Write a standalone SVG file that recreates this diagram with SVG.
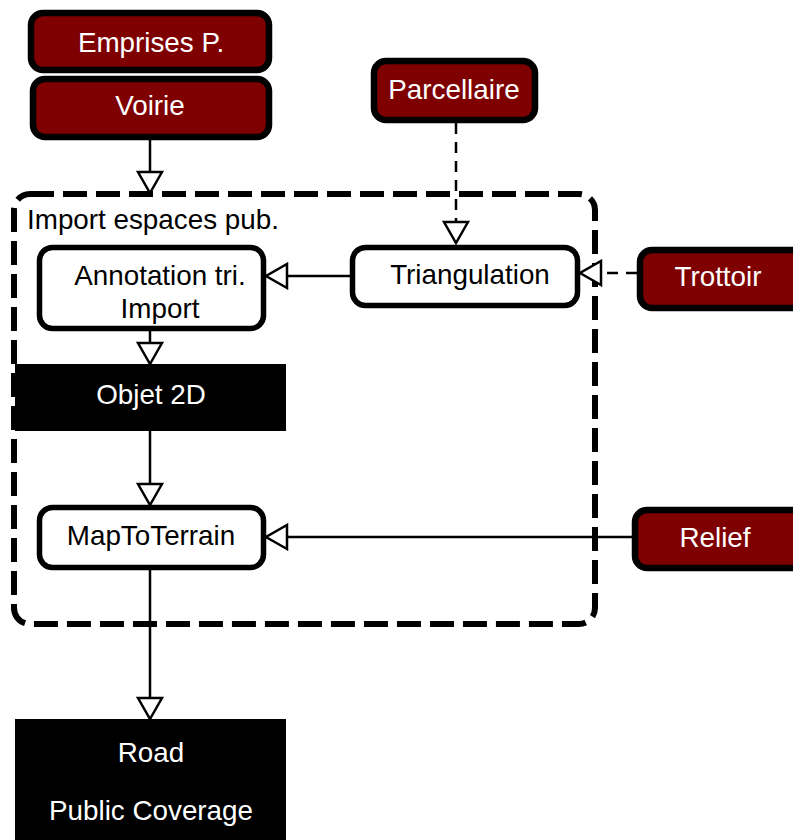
<svg xmlns="http://www.w3.org/2000/svg" width="793" height="840" viewBox="0 0 793 840">
<defs>
<style>
text{font-family:"Liberation Sans",Arial,sans-serif;font-size:27.8px;text-anchor:middle}
.w{fill:#fff}
.b{fill:#000}
.red{fill:#7f0000;stroke:#000;stroke-width:6.5}
.proc{fill:#fff;stroke:#000;stroke-width:5.5}
.blk{fill:#000}
.c{fill:none;stroke:#000;stroke-width:2.5}
.d{stroke-dasharray:11 8}
</style>
<marker id="ah" viewBox="0 0 26 28" refX="23" refY="14" markerWidth="26" markerHeight="28" markerUnits="userSpaceOnUse" orient="auto">
<path d="M2,2 L23,14 L2,26 Z" fill="#fff" stroke="#000" stroke-width="2.5" stroke-dasharray="none"/>
</marker>
</defs>
<g id="container">
<rect x="14" y="194" width="581" height="430" rx="16" fill="none" stroke="#000" stroke-width="6" stroke-dasharray="24 9"/>
<text x="27" y="229" class="b" style="text-anchor:start">Import espaces pub.</text>
</g>
<g id="connectors">
<path class="c" d="M150,139 V193" marker-end="url(#ah)"/>
<path class="c d" d="M456,123 V243" marker-end="url(#ah)"/>
<path class="c d" d="M637,273 H580" marker-end="url(#ah)"/>
<path class="c" d="M352,276 H266" marker-end="url(#ah)"/>
<path class="c" d="M150,330 V364" marker-end="url(#ah)"/>
<path class="c" d="M150,431 V505" marker-end="url(#ah)"/>
<path class="c" d="M635,537 H266" marker-end="url(#ah)"/>
<path class="c" d="M150,570 V719" marker-end="url(#ah)"/>
</g>
<g id="emprises">
<rect class="red" x="31" y="13" width="238" height="57" rx="12"/>
<text x="151" y="52" class="w">Emprises P.</text>
</g>
<g id="voirie">
<rect class="red" x="33" y="79" width="236" height="58" rx="12"/>
<text x="150" y="115" class="w">Voirie</text>
</g>
<g id="parcellaire">
<rect class="red" x="374" y="61" width="161" height="59" rx="12"/>
<text x="454" y="99" class="w">Parcellaire</text>
</g>
<g id="annotation">
<rect class="proc" x="39.5" y="247.5" width="224" height="81" rx="13"/>
<text x="160" y="285" class="b">Annotation tri.</text>
<text x="160" y="318" class="b">Import</text>
</g>
<g id="triangulation">
<rect class="proc" x="352.5" y="247.5" width="225" height="58" rx="13"/>
<text x="470" y="284" class="b">Triangulation</text>
</g>
<g id="trottoir">
<rect class="red" x="640" y="250" width="170" height="58" rx="12"/>
<text x="718" y="286" class="w">Trottoir</text>
</g>
<g id="objet2d">
<rect class="blk" x="15" y="364" width="271" height="67"/>
<text x="151" y="404" class="w">Objet 2D</text>
</g>
<g id="mapToTerrain">
<rect class="proc" x="39.5" y="507.5" width="224" height="60" rx="13"/>
<text x="151" y="545" class="b">MapToTerrain</text>
</g>
<g id="relief">
<rect class="red" x="635" y="510" width="170" height="58" rx="12"/>
<text x="715" y="547" class="w">Relief</text>
</g>
<g id="road">
<rect class="blk" x="15" y="719" width="271" height="121"/>
<text x="151" y="762" class="w">Road</text>
<text x="151" y="820" class="w">Public Coverage</text>
</g>
</svg>
